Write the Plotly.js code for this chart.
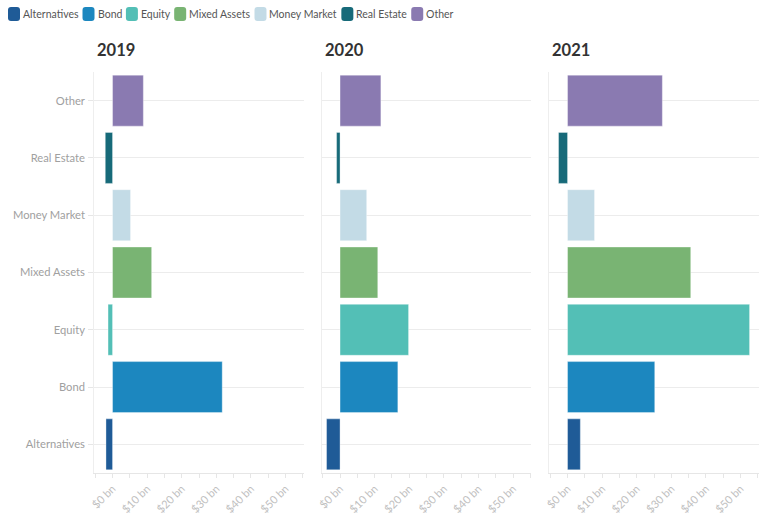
<!DOCTYPE html>
<html>
<head>
<meta charset="utf-8">
<script src="https://cdn.plot.ly/plotly-3.0.1.min.js"></script>
<style>html,body{margin:0;padding:0;background:#fff;}#chart{width:765px;height:524px;}</style>
</head>
<body>
<div id="chart"></div>
<script>
var categories = ['Alternatives', 'Bond', 'Equity', 'Mixed Assets', 'Money Market', 'Real Estate', 'Other'];
var years = ['2019', '2020', '2021'];
var values2019 = [-1.9, 31.7, -1.3, 11.3, 5.2, -2.1, 8.9];
var values2020 = [-3.9, 16.7, 19.8, 10.9, 7.7, -1.0, 11.8];
var values2021 = [3.7, 25.2, 52.6, 35.6, 7.8, -2.6, 27.4];
var tickValues = [0, 10, 20, 30, 40, 50];
var tickLabels = ['$0 bn', '$10 bn', '$20 bn', '$30 bn', '$40 bn', '$50 bn'];
var colors = ['#1f5b97', '#1c87bf', '#53bfb6', '#79b473', '#c3dbe6', '#176a79', '#8a7ab1'];

var seriesByYear = [values2019, values2020, values2021];
var W = 765, H = 524;
var MT = 72.4, MB = 51.4;
var PH = H - MT - MB;
var domains = [[94.2 / W, 303.9 / W], [321.7 / W, 531.4 / W], [549.2 / W, 758.9 / W]];

var traces = [];
seriesByYear.forEach(function (vals, p) {
  var xa = p === 0 ? 'x' : 'x' + (p + 1);
  var ya = p === 0 ? 'y' : 'y' + (p + 1);
  categories.forEach(function (cat, i) {
    traces.push({
      type: 'bar',
      orientation: 'h',
      x: [vals[i]],
      y: [cat],
      name: cat,
      legendgroup: cat,
      showlegend: false,
      xaxis: xa,
      yaxis: ya,
      marker: { color: colors[i], line: { color: 'rgba(255,255,255,0.35)', width: 1 } },
      hoverinfo: 'skip'
    });
  });
});

var font = "Lato, 'Source Sans Pro', 'Open Sans', sans-serif";
var layout = {
  width: W,
  height: H,
  margin: { l: 0, r: 0, t: MT, b: MB },
  paper_bgcolor: '#ffffff',
  plot_bgcolor: '#ffffff',
  font: { family: font, color: '#999999', size: 12 },
  barmode: 'overlay',
  bargap: 0.11,
  hovermode: false,
  showlegend: false,
  annotations: [],
  shapes: []
};

years.forEach(function (yr, p) {
  var sx = p === 0 ? '' : String(p + 1);
  layout['xaxis' + sx] = {
    domain: domains[p],
    anchor: 'y' + sx,
    range: [-5.3, 55.3],
    tickvals: tickValues,
    ticktext: tickLabels,
    tickangle: -45,
    tickfont: { family: font, size: 11, color: '#c0c0c0' },
    ticks: 'outside',
    ticklen: 4,
    tickcolor: '#e6e6e6',
    minor: { dtick: 5, tick0: 0, ticks: 'outside', ticklen: 4, tickcolor: '#e6e6e6', showgrid: false },
    showgrid: false,
    zeroline: false,
    showline: true,
    linecolor: '#e6e6e6',
    linewidth: 1,
    fixedrange: true
  };
  layout['yaxis' + sx] = {
    domain: [0, 1],
    anchor: 'x' + sx,
    type: 'category',
    categoryorder: 'array',
    categoryarray: categories,
    showticklabels: p === 0,
    ticks: p === 0 ? 'outside' : '',
    ticklen: 5,
    tickcolor: '#e6e6e6',
    ticklabelstandoff: 1,
    tickfont: { family: font, size: 11.2, color: '#a0a0a0' },
    showgrid: true,
    gridcolor: '#ececec',
    gridwidth: 1,
    showline: true,
    linecolor: '#eeeeee',
    linewidth: 1,
    zeroline: false,
    fixedrange: true
  };
  layout.annotations.push({
    text: '<b>' + yr + '</b>',
    xref: 'paper', yref: 'paper',
    x: domains[p][0] + 1 / W, y: 1,
    xanchor: 'left', yanchor: 'bottom',
    yshift: 10,
    showarrow: false,
    font: { family: font, size: 16.5, color: '#333333' }
  });
});

// Custom legend row (rounded swatches + labels), laid out by measured text width
var legendFontSize = 10.5;
var ctx = document.createElement('canvas').getContext('2d');
ctx.font = legendFontSize + 'px Lato';
function px2x(px) { return px / W; }
function py2y(py) { return (H - MB - py) / PH; }
function roundRectPath(x0, y0, x1, y1, r) {
  var X = function (v) { return px2x(v); };
  var Y = function (v) { return py2y(v); };
  return 'M' + X(x0 + r) + ',' + Y(y0) +
    ' L' + X(x1 - r) + ',' + Y(y0) +
    ' Q' + X(x1) + ',' + Y(y0) + ' ' + X(x1) + ',' + Y(y0 + r) +
    ' L' + X(x1) + ',' + Y(y1 - r) +
    ' Q' + X(x1) + ',' + Y(y1) + ' ' + X(x1 - r) + ',' + Y(y1) +
    ' L' + X(x0 + r) + ',' + Y(y1) +
    ' Q' + X(x0) + ',' + Y(y1) + ' ' + X(x0) + ',' + Y(y1 - r) +
    ' L' + X(x0) + ',' + Y(y0 + r) +
    ' Q' + X(x0) + ',' + Y(y0) + ' ' + X(x0 + r) + ',' + Y(y0) + ' Z';
}
var cursor = 8;
var legendTop = 7.5, legendBottom = 21.5, legendMid = 14.5;
categories.forEach(function (cat, i) {
  layout.shapes.push({
    type: 'path', xref: 'paper', yref: 'paper',
    path: roundRectPath(cursor, legendTop, cursor + 12, legendBottom, 3),
    fillcolor: colors[i], line: { width: 0 }, layer: 'above'
  });
  var tx = cursor + 14;
  layout.annotations.push({
    text: cat, xref: 'paper', yref: 'paper',
    x: px2x(tx), y: py2y(legendMid), xanchor: 'left', yanchor: 'middle',
    showarrow: false, borderpad: 0,
    font: { family: font, size: legendFontSize, color: '#555555' }
  });
  cursor = tx + ctx.measureText(cat).width + 5;
});

Plotly.newPlot('chart', traces, layout, { displayModeBar: false, staticPlot: true });
</script>
</body>
</html>
